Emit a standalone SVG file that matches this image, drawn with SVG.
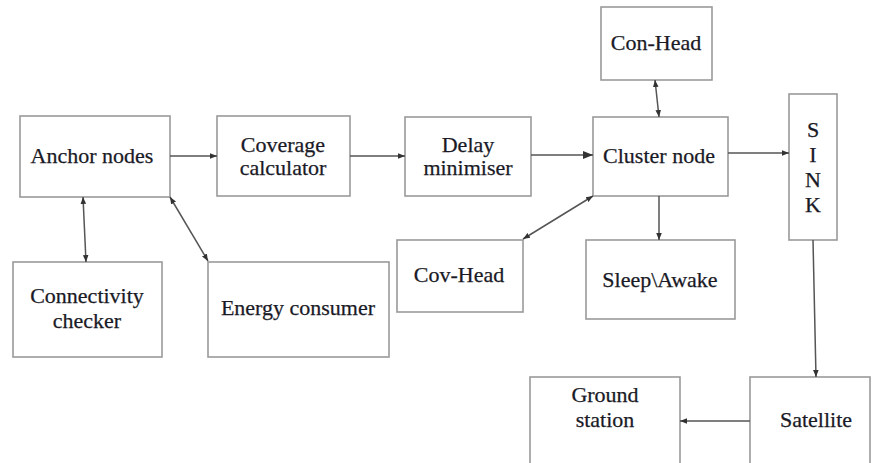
<svg xmlns="http://www.w3.org/2000/svg" width="872" height="463" viewBox="0 0 872 463">
<defs>
<marker id="ah" viewBox="0 0 10 10" refX="10" refY="5" markerWidth="7" markerHeight="7" markerUnits="userSpaceOnUse" orient="auto-start-reverse">
<path d="M0,1 L10,5 L0,9 z" fill="#333"/>
</marker>
<marker id="ahL" viewBox="0 0 10 10" refX="10" refY="5" markerWidth="10" markerHeight="10" markerUnits="userSpaceOnUse" orient="auto-start-reverse">
<path d="M0,1 L10,5 L0,9 z" fill="#333"/>
</marker>
</defs>
<style>
.n rect{fill:#fff;stroke:#9a9a9a;stroke-width:1.6}
text{font-family:"Liberation Serif","Times New Roman",serif;font-size:22px;fill:#1a1a26;stroke:#1a1a26;stroke-width:0.25;text-anchor:middle}
.c line{stroke:#555;stroke-width:1.5}
</style>
<rect width="872" height="463" fill="#fff"/>
<g class="n" id="anchor"><rect x="20" y="116" width="150" height="81"/><text x="92" y="163">Anchor nodes</text></g>
<g class="n" id="coverage"><rect x="217" y="116" width="133" height="80"/><text x="283" y="152">Coverage</text><text x="283" y="175">calculator</text></g>
<g class="n" id="delay"><rect x="405" y="117" width="126" height="79"/><text x="468" y="152">Delay</text><text x="468" y="175">minimiser</text></g>
<g class="n" id="cluster"><rect x="593" y="117" width="135" height="79"/><text x="659" y="163">Cluster node</text></g>
<g class="n" id="conhead"><rect x="601" y="7" width="111" height="73"/><text x="656" y="50">Con-Head</text></g>
<g class="n" id="sink"><rect x="789" y="94" width="48" height="146"/><text x="813" y="137">S</text><text x="813" y="162">I</text><text x="813" y="187">N</text><text x="813" y="212">K</text></g>
<g class="n" id="covhead"><rect x="397" y="240" width="126" height="72"/><text x="459" y="282">Cov-Head</text></g>
<g class="n" id="sleep"><rect x="586" y="240" width="149" height="79"/><text x="660" y="287">Sleep\Awake</text></g>
<g class="n" id="conn"><rect x="13" y="262" width="149" height="95"/><text x="87" y="303">Connectivity</text><text x="87" y="328">checker</text></g>
<g class="n" id="energy"><rect x="208" y="262" width="181" height="95"/><text x="298" y="315">Energy consumer</text></g>
<g class="n" id="ground"><rect x="530" y="377" width="150" height="100"/><text x="605" y="402">Ground</text><text x="605" y="427">station</text></g>
<g class="n" id="satellite"><rect x="750" y="377" width="120" height="100"/><text x="816" y="427">Satellite</text></g>
<g class="c" id="connectors">
<line x1="170" y1="156" x2="217" y2="156" marker-end="url(#ah)"/>
<line x1="350" y1="156" x2="405" y2="156" marker-end="url(#ah)"/>
<line x1="531" y1="155" x2="593" y2="155" marker-end="url(#ahL)"/>
<line x1="728" y1="153" x2="789" y2="153" marker-end="url(#ah)"/>
<line x1="655" y1="80" x2="659" y2="117" marker-start="url(#ah)" marker-end="url(#ah)"/>
<line x1="659" y1="196" x2="659" y2="240" marker-end="url(#ah)"/>
<line x1="523" y1="239" x2="593" y2="196" marker-start="url(#ah)" marker-end="url(#ah)"/>
<line x1="83" y1="197" x2="86" y2="262" marker-start="url(#ah)" marker-end="url(#ah)"/>
<line x1="170" y1="197" x2="208" y2="261" marker-start="url(#ah)" marker-end="url(#ah)"/>
<line x1="813" y1="240" x2="816" y2="377" marker-end="url(#ah)"/>
<line x1="750" y1="421" x2="680" y2="421" marker-end="url(#ah)"/>
</g>
</svg>
